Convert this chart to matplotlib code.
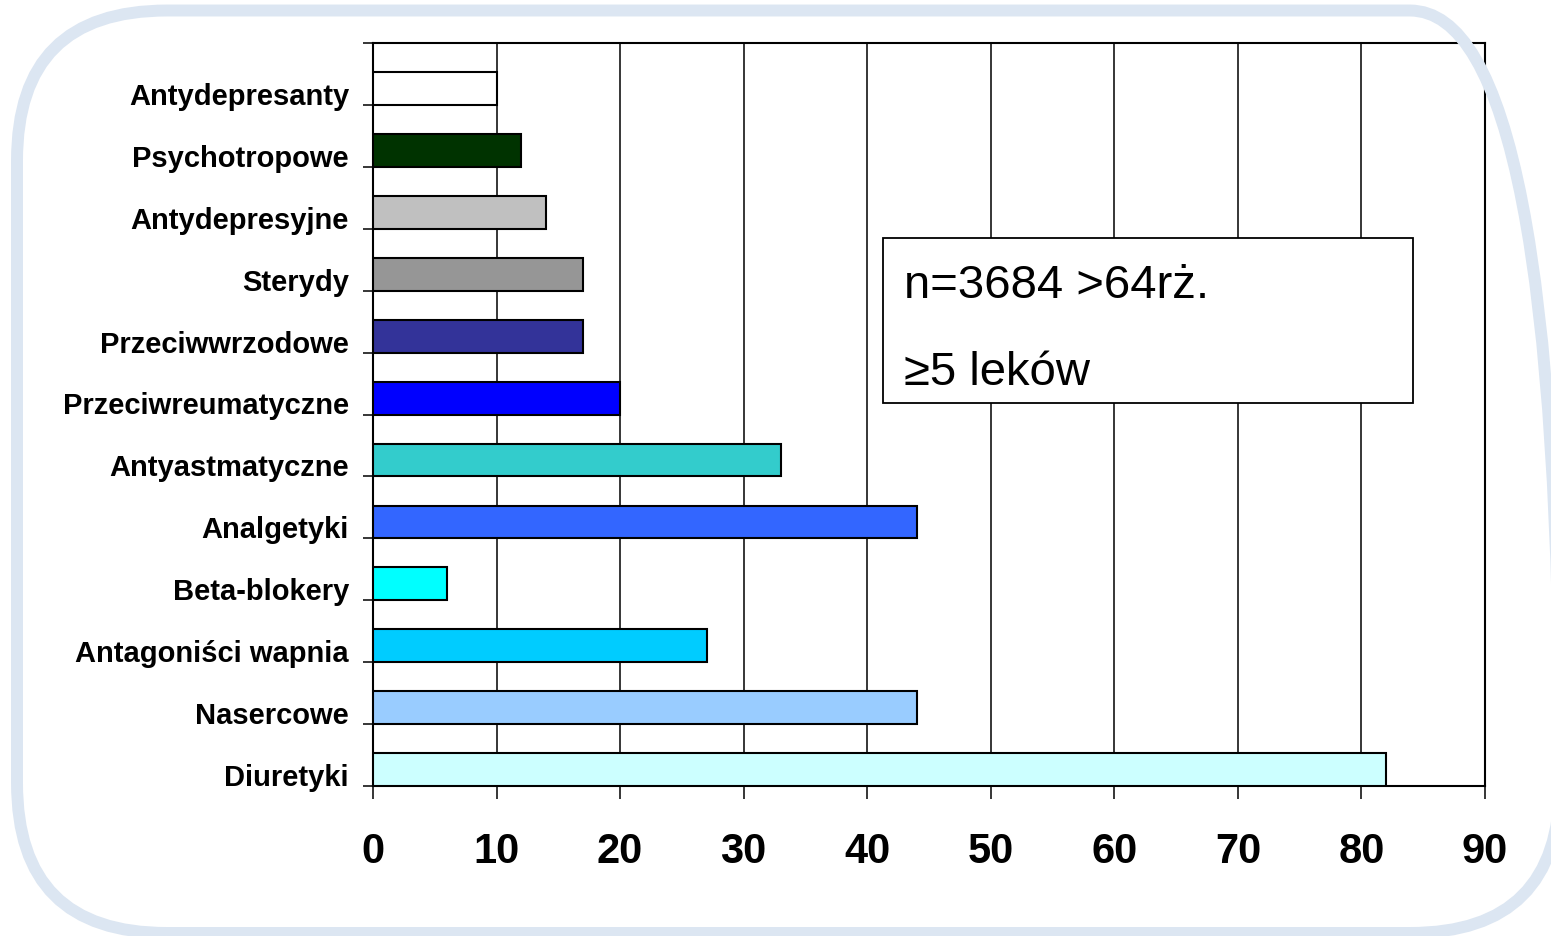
import matplotlib
matplotlib.use("Agg")
import matplotlib.pyplot as plt
from matplotlib.patches import FancyBboxPatch, Rectangle
from matplotlib.transforms import IdentityTransform

# Drug classes (top to bottom) and their share among patients taking >=5 drugs
categories = [
    "Antydepresanty", "Psychotropowe", "Antydepresyjne", "Sterydy",
    "Przeciwwrzodowe", "Przeciwreumatyczne", "Antyastmatyczne", "Analgetyki",
    "Beta-blokery", "Antagoniści wapnia", "Nasercowe", "Diuretyki",
]
values = [10, 12, 14, 17, 17, 20, 33, 44, 6, 27, 44, 82]
colors = [
    "#FFFFFF", "#003300", "#C0C0C0", "#969696",
    "#333399", "#0000FF", "#33CCCC", "#3366FF",
    "#00FFFF", "#00CCFF", "#99CCFF", "#CCFFFF",
]
x_ticks = [0, 10, 20, 30, 40, 50, 60, 70, 80, 90]
note_lines = ["n=3684 >64rż.", "≥5 leków"]

W, H, DPI = 1551, 936, 100
fig = plt.figure(figsize=(W / DPI, H / DPI), dpi=DPI)
fig.patch.set_facecolor("white")

sans = ["Liberation Sans", "DejaVu Sans"]

# Rounded frame around the whole slide (right side runs just past the edge)
frame = FancyBboxPatch((17, 3), 1543, 922.5,
                       boxstyle="round,pad=0,rounding_size=150",
                       transform=IdentityTransform(), facecolor="none",
                       edgecolor="#DCE6F2", linewidth=8.6, zorder=0)
fig.patches.append(frame)

ax = fig.add_axes([373 / W, (H - 786) / H, (1485 - 373) / W, (786 - 43) / H])
ax.set_xlim(0, 90)
ax.set_ylim(len(categories), 0)

bar_h = 0.53
ypos = [i + 1 - bar_h / 2 for i in range(len(categories))]
ax.barh(ypos, values, height=bar_h, color=colors, edgecolor="black",
        linewidth=1.5, zorder=3)

# Vertical grid lines
ax.set_xticks(x_ticks)
ax.grid(axis="x", color="black", linewidth=1.1, zorder=1)
ax.set_axisbelow(True)

# Category labels sit on the slot boundaries, baseline-aligned
ax.set_yticks(range(len(categories) + 1))
ax.set_yticklabels([""] + categories, fontfamily=sans, fontweight="bold",
                   fontsize=21)
for lab in ax.get_yticklabels():
    lab.set_verticalalignment("baseline")
ax.tick_params(axis="y", length=7.2, width=1.1, pad=10, color="black")

ax.set_xticklabels([str(t) for t in x_ticks], fontfamily=sans,
                   fontweight="bold", fontsize=30)
ax.tick_params(axis="x", length=9.4, width=1.1, pad=24, color="black")

for sp in ax.spines.values():
    sp.set_color("black")
    sp.set_linewidth(1.5)

# Annotation box
box = Rectangle((883 / W, (H - 403) / H), (1413 - 883) / W, (403 - 238) / H,
                transform=fig.transFigure, facecolor="white",
                edgecolor="black", linewidth=1.3, zorder=5)
fig.patches.append(box)
fig.text(904 / W, (H - 298) / H, note_lines[0], fontfamily=sans,
         fontsize=34, va="baseline", ha="left", zorder=6)
fig.text(904 / W, (H - 385) / H, note_lines[1], fontfamily=sans,
         fontsize=34, va="baseline", ha="left", zorder=6)

fig.savefig("out.png", dpi=DPI, facecolor="white")
